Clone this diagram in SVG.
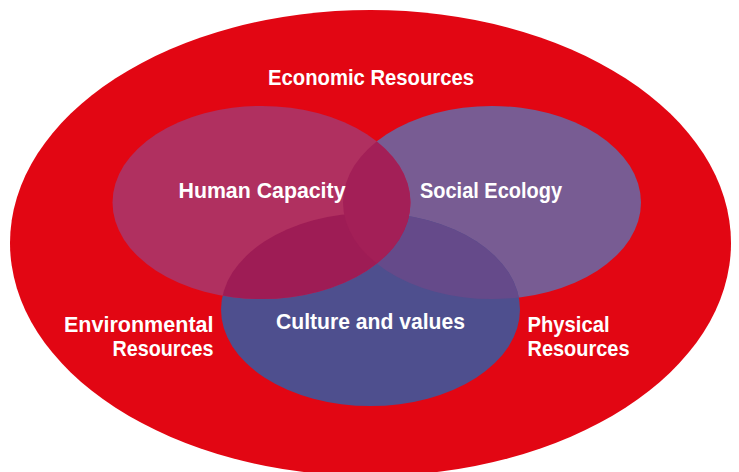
<svg xmlns="http://www.w3.org/2000/svg" width="739" height="472" viewBox="0 0 739 472">
  <style>
    .lbl { font-family: "Liberation Sans", Arial, sans-serif; font-weight: 700; font-size: 22.5px; fill: #ffffff; }
    .two { font-size: 21.4px; }
  </style>
  <defs>
    <clipPath id="clipSE"><ellipse cx="492" cy="202.5" rx="149" ry="96.5"/></clipPath>
    <clipPath id="clipCV"><ellipse cx="370.5" cy="309.5" rx="149.5" ry="96.5"/></clipPath>
  </defs>
  <rect x="0" y="0" width="739" height="472" fill="#ffffff"/>
  <g id="economic">
    <ellipse cx="370.5" cy="243" rx="360.5" ry="233" fill="#E20613"/>
    <text class="lbl" x="268" y="85" textLength="206" lengthAdjust="spacingAndGlyphs">Economic Resources</text>
  </g>
  <g id="social-ecology">
    <ellipse cx="492" cy="202.5" rx="149" ry="96.5" fill="#785C93"/>
  </g>
  <g id="culture-values">
    <ellipse cx="370.5" cy="309.5" rx="149.5" ry="96.5" fill="#4E4F8E"/>
    <ellipse cx="370.5" cy="309.5" rx="149.5" ry="96.5" fill="#654A8A" clip-path="url(#clipSE)"/>
  </g>
  <g id="human-capacity">
    <ellipse cx="261.5" cy="202.5" rx="149" ry="96.5" fill="#B03060"/>
    <ellipse cx="261.5" cy="202.5" rx="149" ry="96.5" fill="#9E1C55" clip-path="url(#clipCV)"/>
    <ellipse cx="261.5" cy="202.5" rx="149" ry="96.5" fill="#A31F57" clip-path="url(#clipSE)"/>
  </g>
  <g id="labels">
    <text class="lbl" x="178.5" y="198" textLength="167" lengthAdjust="spacingAndGlyphs">Human Capacity</text>
    <text class="lbl" x="420" y="198" textLength="142" lengthAdjust="spacingAndGlyphs">Social Ecology</text>
    <text class="lbl" x="276" y="328.5" textLength="189" lengthAdjust="spacingAndGlyphs">Culture and values</text>
  </g>
  <g id="environmental">
    <text class="lbl two"><tspan x="64" y="332" textLength="149.5" lengthAdjust="spacingAndGlyphs">Environmental</tspan><tspan x="112.5" y="356" textLength="101" lengthAdjust="spacingAndGlyphs">Resources</tspan></text>
  </g>
  <g id="physical">
    <text class="lbl two"><tspan x="527.5" y="332" textLength="82" lengthAdjust="spacingAndGlyphs">Physical</tspan><tspan x="527.5" y="356" textLength="102" lengthAdjust="spacingAndGlyphs">Resources</tspan></text>
  </g>
  <g id="connectors"></g>
</svg>
